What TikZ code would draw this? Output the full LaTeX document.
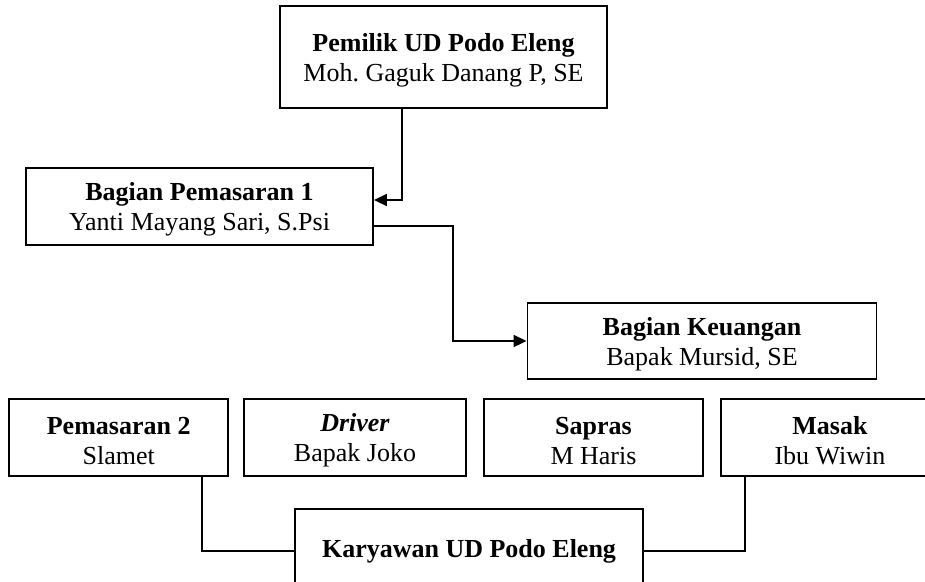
\documentclass[tikz,border=0pt]{standalone}
\usepackage{fontspec}
\setmainfont{Liberation Serif}
\usetikzlibrary{arrows.meta}
\newcommand{\upstrut}{\rule{0pt}{24pt}}
\begin{document}
\frenchspacing
\begin{tikzpicture}[x=1pt,y=-1pt,
  box/.style={draw,line width=1.9pt,rectangle,inner sep=0pt,align=center,
    font=\fontsize{26}{30}\selectfont},
  link/.style={line width=1.9pt},
  arr/.style={link,-{Triangle[length=13pt,width=12pt]}}]
\useasboundingbox (0,0) rectangle (925,581);
\clip (0,0) rectangle (925,581);
\node[box,minimum width=327pt,minimum height=102pt] (top) at (443.5,57)
  {\upstrut\textbf{Pemilik UD Podo Eleng}\\Moh.\ Gaguk Danang P, SE};
\node[box,minimum width=347pt,minimum height=77pt] (pem1) at (199.5,206.5)
  {\upstrut\textbf{Bagian Pemasaran 1}\\Yanti Mayang Sari, S.Psi};
\node[box,minimum width=349pt,minimum height=76pt] (keu) at (702,341)
  {\upstrut\textbf{Bagian Keuangan}\\Bapak Mursid, SE};
\node[box,minimum width=219pt,minimum height=77pt] (pem2) at (118.7,437.5)
  {\upstrut\textbf{Pemasaran 2}\\Slamet};
\node[box,minimum width=222pt,minimum height=77pt] (drv) at (355,437.5)
  {\upstrut\textbf{\textit{Driver}}\\Bapak Joko};
\node[box,minimum width=219pt,minimum height=77pt] (sap) at (593.5,437.5)
  {\upstrut\textbf{Sapras}\\M Haris};
\node[box,minimum width=218pt,minimum height=77pt] (mas) at (830,437.5)
  {\upstrut\textbf{Masak}\\Ibu Wiwin};
\node[box,minimum width=348pt,minimum height=84pt] (kar) at (469,551)
  {\textbf{Karyawan UD Podo Eleng}};
\coordinate (k1) at (402,200);
\coordinate (k2) at (453,226);
\coordinate (k4) at (202,553);
\coordinate (k5) at (745,553);
\draw[arr] (top.south -| k1) |- (k1 -| pem1.east);
\draw[arr] (k2 -| pem1.east) -- (k2) |- (keu.west);
\draw[link] (pem2.south -| k4) |- (kar.west);
\draw[link] (mas.south -| k5) |- (kar.east);
\end{tikzpicture}
\end{document}
